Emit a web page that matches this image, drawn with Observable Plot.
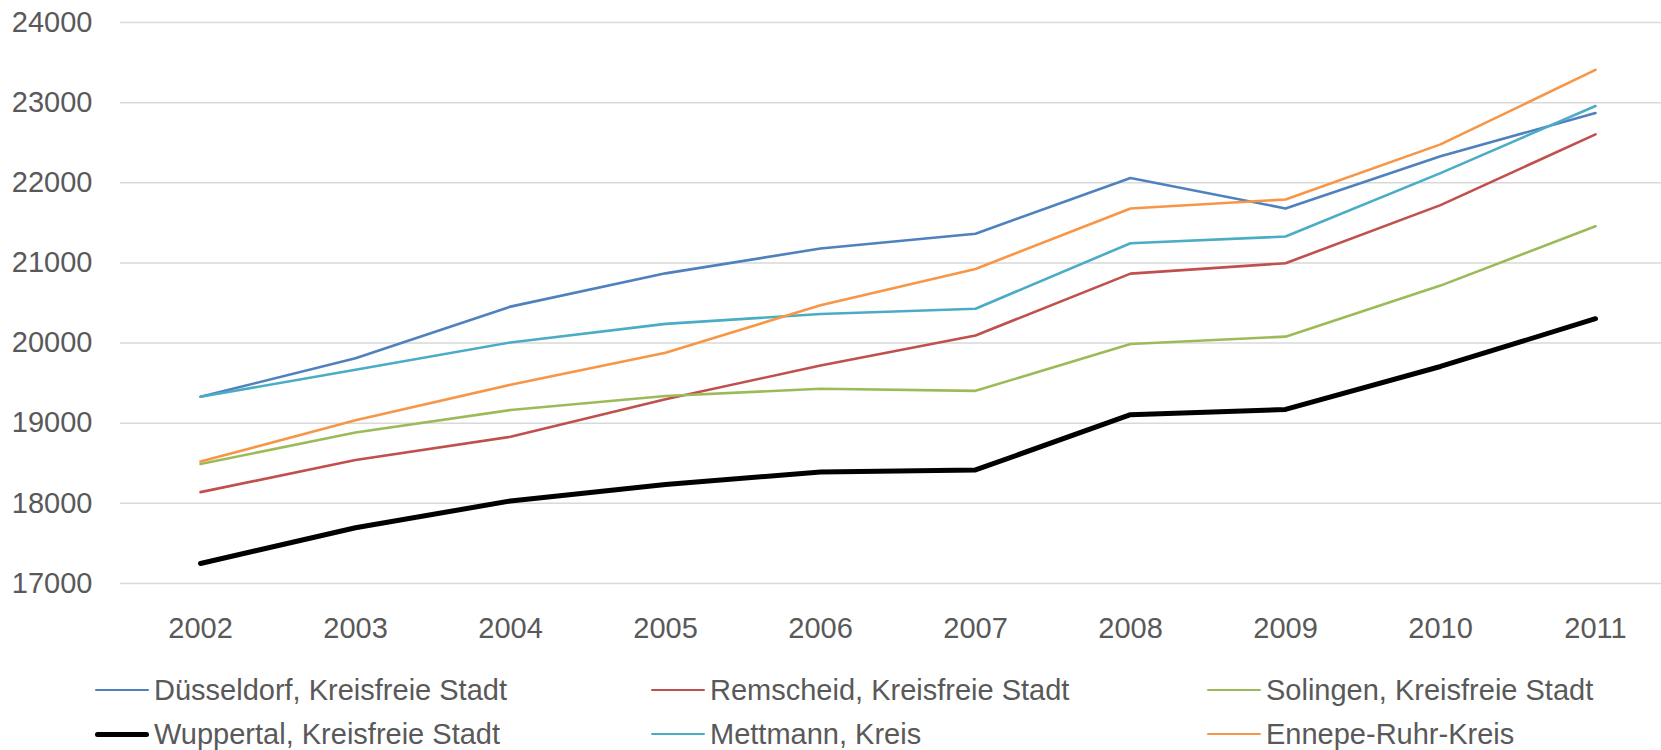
<!DOCTYPE html>
<html>
<head>
<meta charset="utf-8">
<script src="https://cdn.jsdelivr.net/npm/d3@7"></script>
<script src="https://cdn.jsdelivr.net/npm/@observablehq/plot@0.6"></script>
<style>
  body { margin: 0; background: #fff; font-family: "Liberation Sans", Arial, sans-serif; overflow: hidden; }
  #legend { display: grid; grid-template-columns: 556px 556px auto; padding-left: 95px; padding-top: 8px; width: 1566px; }
  .item { display: flex; align-items: center; height: 44px; font-size: 29px; color: #595959; white-space: nowrap; }
  .sw { width: 54px; margin-right: 5px; flex: none; }
</style>
</head>
<body>
<div id="chart"></div>
<div id="legend"></div>
<script>
// Years on the category axis
const years = [2002, 2003, 2004, 2005, 2006, 2007, 2008, 2009, 2010, 2011];

// Series values per district
const duesseldorf = [19330, 19810, 20455, 20870, 21180, 21365, 22060, 21680, 22330, 22870];
const remscheid   = [18140, 18540, 18830, 19300, 19720, 20095, 20867, 20996, 21721, 22604];
const solingen    = [18490, 18885, 19165, 19340, 19430, 19404, 19988, 20080, 20717, 21458];
const wuppertal   = [17250, 17696, 18030, 18235, 18392, 18417, 19106, 19172, 19708, 20304];
const mettmann    = [19330, 19667, 20008, 20240, 20362, 20429, 21246, 21329, 22121, 22958];
const ennepe      = [18521, 19037, 19479, 19880, 20471, 20925, 21679, 21792, 22479, 23408];

// Series names, in drawing order
const names = [
  "Düsseldorf, Kreisfreie Stadt",
  "Remscheid, Kreisfreie Stadt",
  "Solingen, Kreisfreie Stadt",
  "Wuppertal, Kreisfreie Stadt",
  "Mettmann, Kreis",
  "Ennepe-Ruhr-Kreis"
];

// Value-axis tick labels
const yTicks = [17000, 18000, 19000, 20000, 21000, 22000, 23000, 24000];

// Styling
const palette = ["#4F81BD", "#C0504D", "#9BBB59", "#000000", "#4BACC6", "#F79646"];
const highlighted = "Wuppertal, Kreisfreie Stadt";

const seriesValues = [duesseldorf, remscheid, solingen, wuppertal, mettmann, ennepe];
const rows = names.flatMap((name, i) =>
  years.map((year, j) => ({name, year, value: seriesValues[i][j]}))
);

const chart = Plot.plot({
  width: 1661,
  height: 660,
  marginLeft: 120,
  marginRight: 0,
  marginTop: 22,
  marginBottom: 77,
  style: {fontFamily: "'Liberation Sans', Arial, sans-serif", fontSize: "29px", color: "#595959", background: "#fff"},
  x: {type: "point", domain: years, range: [196, 1598], padding: 0, label: null},
  y: {domain: [17000, 24000], label: null},
  color: {domain: names, range: palette},
  marks: [
    Plot.ruleY(yTicks, {stroke: "#d9d9d9", strokeWidth: 1.5}),
    Plot.axisY({ticks: yTicks, tickSize: 0, tickPadding: 28, tickFormat: d => String(d), label: null}),
    Plot.axisX({tickSize: 0, tickPadding: 34, tickFormat: d => String(d), label: null}),
    ...names.map(n => Plot.line(rows.filter(r => r.name === n), {
      x: "year",
      y: "value",
      stroke: "name",
      strokeWidth: n === highlighted ? 5 : 2.6,
      strokeLinecap: "round",
      strokeLinejoin: "round"
    }))
  ]
});
document.getElementById("chart").appendChild(chart);

// Legend below the plot, three columns
const legend = document.getElementById("legend");
names.forEach((name, i) => {
  const item = document.createElement("div");
  item.className = "item";
  const sw = document.createElement("span");
  sw.className = "sw";
  const thick = name === highlighted ? 5 : 2.6;
  sw.style.height = thick + "px";
  sw.style.background = palette[i];
  sw.style.borderRadius = (thick / 2) + "px";
  const label = document.createElement("span");
  label.textContent = name;
  item.appendChild(sw);
  item.appendChild(label);
  legend.appendChild(item);
});
</script>
</body>
</html>
